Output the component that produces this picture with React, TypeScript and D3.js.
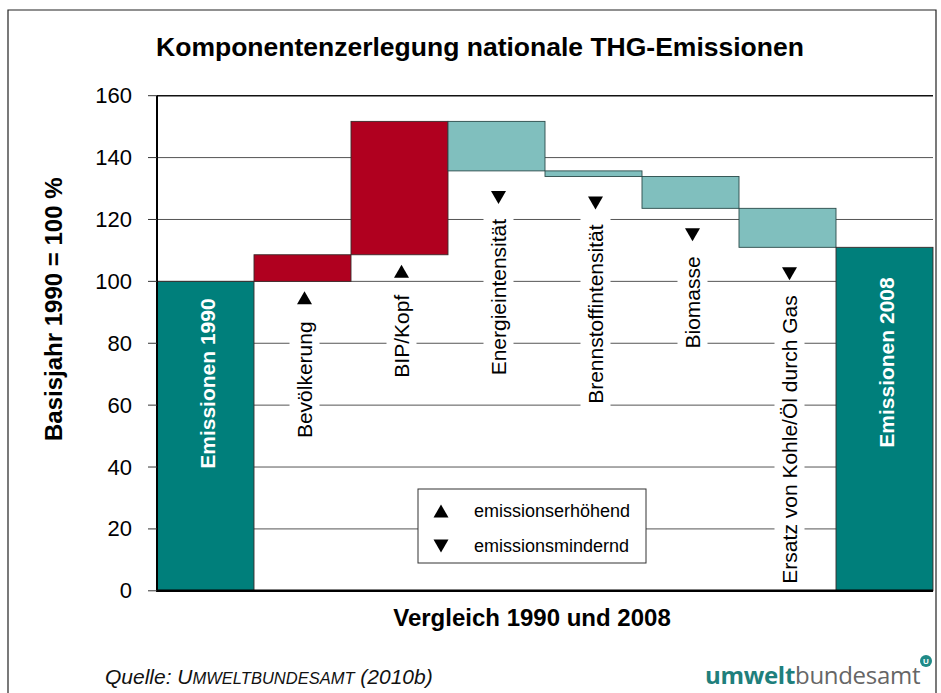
import React, { useEffect, useRef } from "react";
import * as d3 from "d3";

const categories = [
  "Emissionen 1990",
  "Bevölkerung",
  "BIP/Kopf",
  "Energieintensität",
  "Brennstoffintensität",
  "Biomasse",
  "Ersatz von Kohle/Öl durch Gas",
  "Emissionen 2008",
];
const baseValue = 100;
const changes = [8.6, 43.1, -16.0, -1.8, -10.3, -12.6];
const finalValue = 111.0;
const yTicks = [0, 20, 40, 60, 80, 100, 120, 140, 160];
const legendItems = ["emissionserhöhend", "emissionsmindernd"];

const title = "Komponentenzerlegung nationale THG-Emissionen";
const yTitle = "Basisjahr 1990 = 100 %";
const xTitle = "Vergleich 1990 und 2008";

const W = 941;
const H = 693;
const FONT = "'Liberation Sans', Arial, Helvetica, sans-serif";
const C_TOTAL = "#007F7B";
const C_UP = "#B0001F";
const C_DOWN = "#80BFBE";
const totalLabelOffset = [17, 30];

export default function App() {
  const ref = useRef<SVGSVGElement>(null);

  useEffect(() => {
    const svg = d3.select(ref.current);
    svg.selectAll("*").remove();

    type Row = { name: string; lo: number; hi: number; kind: string };
    const rows: Row[] = [];
    rows.push({ name: categories[0], lo: 0, hi: baseValue, kind: "total" });
    let cur = baseValue;
    changes.forEach((c, i) => {
      const next = cur + c;
      rows.push({
        name: categories[i + 1],
        lo: Math.min(cur, next),
        hi: Math.max(cur, next),
        kind: c >= 0 ? "up" : "down",
      });
      cur = next;
    });
    rows.push({ name: categories[categories.length - 1], lo: 0, hi: finalValue, kind: "total" });

    const x = d3.scaleBand<string>().domain(categories).range([157, 933]).padding(0);
    const y = d3.scaleLinear().domain([0, 160]).range([590.8, 95.7]);

    svg.append("rect").attr("width", W).attr("height", H).attr("fill", "#fff");
    svg
      .append("path")
      .attr("d", `M8,${H + 5} L8,10 L936,10 L936,${H + 5}`)
      .attr("fill", "none")
      .attr("stroke", "#222")
      .attr("stroke-width", 1.2);

    svg
      .append("text")
      .attr("x", 480)
      .attr("y", 56)
      .attr("text-anchor", "middle")
      .attr("font-family", FONT)
      .attr("font-weight", "bold")
      .attr("font-size", 26.5)
      .text(title);

    const x0 = x.range()[0];
    const x1 = x.range()[1];
    svg
      .append("g")
      .selectAll("line")
      .data(yTicks.filter((t) => t > 0))
      .join("line")
      .attr("x1", x0)
      .attr("x2", x1)
      .attr("y1", (d) => y(d))
      .attr("y2", (d) => y(d))
      .attr("stroke", (d) => (d === 160 ? "#111" : "#555"))
      .attr("stroke-width", (d) => (d === 160 ? 1.5 : 1));

    svg
      .append("g")
      .selectAll("rect")
      .data(rows)
      .join("rect")
      .attr("x", (d) => x(d.name)!)
      .attr("width", x.bandwidth())
      .attr("y", (d) => y(d.hi))
      .attr("height", (d) => y(d.lo) - y(d.hi))
      .attr("fill", (d) => (d.kind === "total" ? C_TOTAL : d.kind === "up" ? C_UP : C_DOWN))
      .attr("stroke", (d) => (d.kind === "down" ? "#2b4b4a" : "#3a2a2a"))
      .attr("stroke-width", 0.9);

    const totals = rows.filter((r) => r.kind === "total");
    totals.forEach((r, i) => {
      const cx = x(r.name)! + x.bandwidth() / 2 + 2;
      svg
        .append("text")
        .attr("transform", `translate(${cx},${y(r.hi) + totalLabelOffset[i]}) rotate(-90)`)
        .attr("text-anchor", "end")
        .attr("dominant-baseline", "central")
        .attr("font-family", FONT)
        .attr("font-weight", "bold")
        .attr("font-size", 21)
        .attr("fill", "#fff")
        .text(r.name);
    });

    const triPath = (cx: number, top: number, up: boolean) => {
      const w = 15;
      const h = 13;
      return up
        ? `M${cx - w / 2},${top + h} L${cx + w / 2},${top + h} L${cx},${top} Z`
        : `M${cx - w / 2},${top} L${cx + w / 2},${top} L${cx},${top + h} Z`;
    };
    const changeRows = rows.filter((r) => r.kind !== "total");
    changeRows.forEach((r) => {
      const up = r.kind === "up";
      const cx = x(r.name)! + x.bandwidth() / 2 + 2;
      const bottom = y(r.lo);
      const triTop = bottom + (up ? 10 : 20);
      const textEnd = bottom + (up ? 40 : 48);
      const bg = svg.append("rect");
      const t = svg
        .append("text")
        .attr("transform", `translate(${cx},${textEnd}) rotate(-90)`)
        .attr("text-anchor", "end")
        .attr("dominant-baseline", "central")
        .attr("font-family", FONT)
        .attr("font-size", 21)
        .attr("fill", "#000")
        .text(r.name);
      const len = (t.node() as SVGTextElement).getComputedTextLength();
      bg.attr("x", cx - 15)
        .attr("width", 30)
        .attr("y", textEnd - 12)
        .attr("height", Math.min(len + 16, y(0) - 2 - (textEnd - 12)))
        .attr("fill", "#fff");
      svg.append("path").attr("d", triPath(cx, triTop, up)).attr("fill", "#000");
    });

    svg
      .append("line")
      .attr("x1", x0)
      .attr("x2", x0)
      .attr("y1", y(160))
      .attr("y2", y(0) + 1)
      .attr("stroke", "#000")
      .attr("stroke-width", 2);
    svg
      .append("line")
      .attr("x1", x0 - 1)
      .attr("x2", x1)
      .attr("y1", y(0))
      .attr("y2", y(0))
      .attr("stroke", "#000")
      .attr("stroke-width", 2.5);
    const ticks = svg.append("g");
    ticks
      .selectAll("line")
      .data(yTicks)
      .join("line")
      .attr("x1", x0 - 9)
      .attr("x2", x0)
      .attr("y1", (d) => y(d))
      .attr("y2", (d) => y(d))
      .attr("stroke", "#333")
      .attr("stroke-width", 1);
    ticks
      .selectAll("text")
      .data(yTicks)
      .join("text")
      .attr("x", 132)
      .attr("y", (d) => y(d))
      .attr("text-anchor", "end")
      .attr("dominant-baseline", "central")
      .attr("font-family", FONT)
      .attr("font-size", 22)
      .text((d) => String(d));

    svg
      .append("text")
      .attr("transform", `translate(53,${(y(160) + y(0)) / 2 - 34}) rotate(-90)`)
      .attr("text-anchor", "middle")
      .attr("dominant-baseline", "central")
      .attr("font-family", FONT)
      .attr("font-weight", "bold")
      .attr("font-size", 24)
      .text(yTitle);
    svg
      .append("text")
      .attr("x", 532)
      .attr("y", 626)
      .attr("text-anchor", "middle")
      .attr("font-family", FONT)
      .attr("font-weight", "bold")
      .attr("font-size", 24)
      .text(xTitle);

    const lg = svg.append("g");
    lg.append("rect")
      .attr("x", 418)
      .attr("y", 489)
      .attr("width", 228)
      .attr("height", 74)
      .attr("fill", "#fff")
      .attr("stroke", "#333")
      .attr("stroke-width", 1);
    legendItems.forEach((label, i) => {
      const cy = 511 + i * 35;
      lg.append("path")
        .attr("d", triPath(441, cy - 6.5, i === 0))
        .attr("fill", "#000");
      lg.append("text")
        .attr("x", 474)
        .attr("y", cy)
        .attr("dominant-baseline", "central")
        .attr("font-family", FONT)
        .attr("font-size", 18)
        .text(label);
    });

    const src = svg
      .append("text")
      .attr("x", 105)
      .attr("y", 684)
      .attr("font-family", FONT)
      .attr("font-style", "italic")
      .attr("font-size", 21)
      .attr("fill", "#111");
    src.append("tspan").text("Quelle: U");
    src.append("tspan").attr("font-size", 16.5).text("MWELTBUNDESAMT");
    src.append("tspan").text(" (2010b)");

    const logo = svg
      .append("text")
      .attr("x", 705)
      .attr("y", 684)
      .attr("font-family", "'Open Sans', 'Liberation Sans', sans-serif")
      .attr("font-size", 24)
      .attr("letter-spacing", -0.3);
    logo.append("tspan").attr("font-weight", "bold").attr("fill", "#1f7f7c").text("umwelt");
    logo.append("tspan").attr("fill", "#666").text("bundesamt");
    svg
      .append("circle")
      .attr("cx", 926)
      .attr("cy", 661)
      .attr("r", 6)
      .attr("fill", "#1f8a87");
    svg
      .append("text")
      .attr("x", 926)
      .attr("y", 661.5)
      .attr("text-anchor", "middle")
      .attr("dominant-baseline", "central")
      .attr("font-family", FONT)
      .attr("font-size", 8)
      .attr("font-weight", "bold")
      .attr("fill", "#fff")
      .text("U");
  }, []);

  return (
    <svg
      ref={ref}
      width={W}
      height={H}
      style={{ position: "absolute", left: 0, top: 0, display: "block" }}
    />
  );
}
